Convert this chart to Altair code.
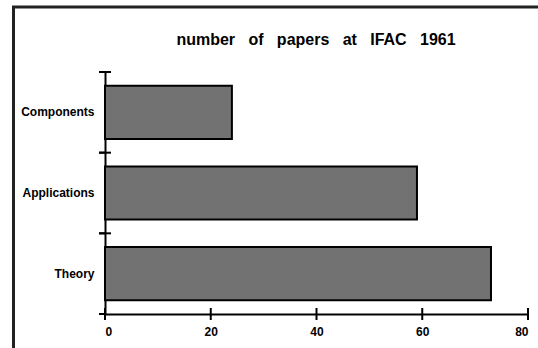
import altair as alt
import pandas as pd

# ---- data ----
categories = ["Components", "Applications", "Theory"]
papers = [24, 59, 73]
x_ticks = [0, 20, 40, 60, 80]
title_words = ["number", "of", "papers", "at", "IFAC", "1961"]

df = pd.DataFrame({"category": categories, "papers": papers})
xtick_df = pd.DataFrame({"v": x_ticks})
title_text = "\u00a0\u00a0\u00a0".join(title_words)

W, H = 423, 242
FONT = "Liberation Sans"

xscale = alt.Scale(domain=[0, 80], nice=False, zero=True)
yscale = alt.Scale(paddingInner=0, paddingOuter=0)

common_axis = dict(
    title=None, grid=False, domainColor="black", domainWidth=2, ticks=False,
    labelFont=FONT, labelFontSize=12, labelFontWeight="bold", labelColor="black",
)

bars = alt.Chart(df).mark_bar(
    fill="#727272", stroke="black", strokeWidth=2, height={"band": 0.66}
).encode(
    x=alt.X("papers:Q", scale=xscale,
            axis=alt.Axis(orient="bottom", values=x_ticks, labelPadding=12, **common_axis)),
    y=alt.Y("category:N", sort=categories, scale=yscale,
            axis=alt.Axis(orient="left", labelPadding=11, **common_axis)),
)

# crossing tick marks on the x axis
xticks_layer = alt.Chart(xtick_df).mark_rule(color="black", strokeWidth=2).encode(
    x=alt.X("v:Q", scale=xscale),
    y=alt.value(H - 6),
    y2=alt.value(H + 6),
)

# crossing tick marks at band boundaries on the y axis
yticks_top = alt.Chart(df).mark_rule(color="black", strokeWidth=2).encode(
    y=alt.Y("category:N", sort=categories, scale=yscale, bandPosition=0),
    x=alt.value(-6),
    x2=alt.value(6),
)
yticks_bottom = alt.Chart(df).mark_rule(color="black", strokeWidth=2).encode(
    y=alt.Y("category:N", sort=categories, scale=yscale, bandPosition=1),
    x=alt.value(-6),
    x2=alt.value(0),
)

frame_df = pd.DataFrame({"k": [0]})
frame_left = alt.Chart(frame_df).mark_rule(color="#222222", strokeWidth=3).encode(
    x=alt.value(-91.5), y=alt.value(-66), y2=alt.value(276)
)
frame_top = alt.Chart(frame_df).mark_rule(color="#222222", strokeWidth=3).encode(
    x=alt.value(-93), x2=alt.value(433), y=alt.value(-65)
)

title = alt.Chart(frame_df).mark_text(
    font=FONT, fontSize=16, fontWeight="bold", color="black",
    align="center", baseline="alphabetic"
).encode(x=alt.value(211), y=alt.value(-27), text=alt.value(title_text))

chart = alt.layer(
    bars, xticks_layer, yticks_top, yticks_bottom, frame_left, frame_top, title
).properties(
    width=W, height=H,
    autosize=alt.AutoSizeParams(type="none"),
    padding={"left": 105, "top": 72, "right": 10, "bottom": 34},
    background="white",
).configure_view(stroke="transparent")

chart.save("out.html", embed_options={"renderer": "svg", "actions": False})
